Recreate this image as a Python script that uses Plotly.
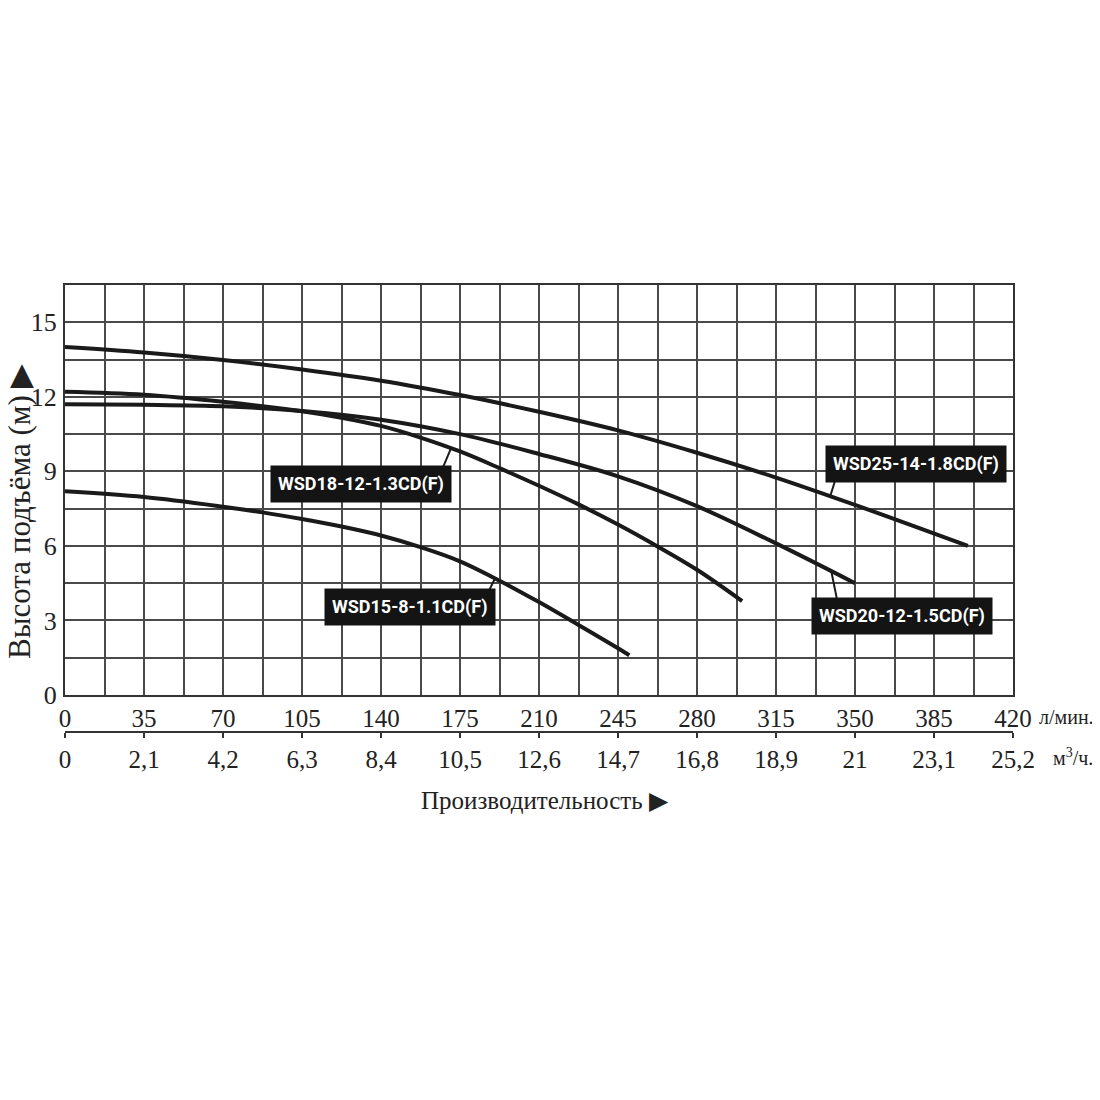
import numpy as np
import plotly.graph_objects as go

# ---- data (flow l/min, head m) ----
q25 = [0, 35, 70, 105, 140, 175, 210, 245, 280, 315, 350, 400]
h25 = [14.0, 13.78, 13.48, 13.1, 12.65, 12.07, 11.4, 10.65, 9.75, 8.75, 7.65, 6.0]

q20 = [0, 35, 70, 105, 140, 175, 210, 245, 280, 315, 350]
h20 = [11.7, 11.68, 11.62, 11.43, 11.08, 10.5, 9.7, 8.8, 7.6, 6.1, 4.5]

q18 = [0, 35, 70, 105, 122.5, 140, 157.5, 175, 192.5, 210, 227.5, 245, 262.5, 280, 300]
h18 = [12.2, 12.08, 11.8, 11.42, 11.16, 10.83, 10.36, 9.8, 9.13, 8.42, 7.67, 6.86, 5.98, 5.04, 3.78]

q15 = [0, 35, 70, 87.5, 105, 122.5, 140, 157.5, 175, 192.5, 210, 227.5, 245, 250]
h15 = [8.2, 7.97, 7.58, 7.35, 7.08, 6.78, 6.42, 5.95, 5.38, 4.6, 3.74, 2.82, 1.88, 1.6]

names = ["WSD25-14-1.8CD(F)", "WSD20-12-1.5CD(F)", "WSD18-12-1.3CD(F)", "WSD15-8-1.1CD(F)"]

# label boxes: (box center q, box center h, pointer start q, pointer start h, pointer end q)
label_pos = [
    (377, 9.3, 341, 8.57, 339),
    (371, 3.18, 342, 3.86, 339.5),
    (131, 8.49, 167.5, 9.17, 171),
    (153, 3.54, 188, 4.23, 190.5),
]

x_ticks = list(range(0, 421, 35))
m3_vals = [0, 2.1, 4.2, 6.3, 8.4, 10.5, 12.6, 14.7, 16.8, 18.9, 21, 23.1, 25.2]
m3_text = ["0", "2,1", "4,2", "6,3", "8,4", "10,5", "12,6", "14,7", "16,8", "18,9", "21", "23,1", "25,2"]
y_ticks = [0, 3, 6, 9, 12, 15]

series = [(q25, h25), (q20, h20), (q18, h18), (q15, h15)]

fig = go.Figure()
for (qq, hh), nm in zip(series, names):
    fig.add_trace(go.Scatter(x=qq, y=hh, mode="lines", name=nm,
                             line=dict(color="#1a1a1a", width=4, shape="spline", smoothing=1.0),
                             showlegend=False, hoverinfo="skip"))

SERIF = "Liberation Serif, Times New Roman, serif"
NARROW = "Roboto, Arial, sans-serif"

for (qq, hh), nm, (bq, bh, pq, ph, eq) in zip(series, names, label_pos):
    eh = float(np.interp(eq, qq, hh))
    fig.add_trace(go.Scatter(x=[pq, eq], y=[ph, eh], mode="lines",
                             line=dict(color="#1a1a1a", width=2),
                             showlegend=False, hoverinfo="skip"))
    fig.add_annotation(x=bq, y=bh, xref="x", yref="y", text="<b>" + nm + "</b>",
                       showarrow=False, bgcolor="#141414", borderpad=7,
                       font=dict(family=NARROW, size=18, color="white"))

# invisible trace for the m3/h axis
fig.add_trace(go.Scatter(x=[0, 25.2], y=[0, 0], xaxis="x2", yaxis="y", mode="lines",
                         line=dict(width=0), showlegend=False, hoverinfo="skip", opacity=0))

OFF = 8  # page body margin
W, H = 1092, 1092
left, right_px, top_px, axis2_px, bottom_px = 65 - OFF, 1013 - OFF, 285 - OFF, 732 - OFF, 695 - OFF
y_dom0 = (axis2_px - bottom_px) / (axis2_px - top_px)
GRID = "#4a4a4a"

fig.update_layout(
    width=W, height=H,
    paper_bgcolor="white", plot_bgcolor="white",
    margin=dict(l=left, r=W - right_px, t=top_px, b=H - axis2_px, pad=0),
    xaxis=dict(range=[0, 420], tickvals=x_ticks, showgrid=True,
               gridcolor=GRID, gridwidth=2, zeroline=False, showline=True,
               linecolor="#333", linewidth=2, mirror=True, ticks="", anchor="y",
               minor=dict(dtick=17.5, tick0=0, showgrid=True, gridcolor=GRID, gridwidth=2),
               tickfont=dict(family=SERIF, size=25, color="#222")),
    xaxis2=dict(range=[0, 25.2], tickvals=m3_vals, ticktext=m3_text, overlaying="x",
                anchor="free", position=0, side="bottom", showgrid=False, zeroline=False,
                showline=True, linecolor="#333", linewidth=2, ticks="outside", ticklen=5,
                tickwidth=2, tickcolor="#333",
                tickfont=dict(family=SERIF, size=25, color="#222")),
    yaxis=dict(range=[0, 16.5], domain=[y_dom0, 1], tickvals=y_ticks,
               showgrid=True, gridcolor=GRID, gridwidth=2, zeroline=False,
               showline=True, linecolor="#333", linewidth=2, mirror=True, ticks="",
               minor=dict(dtick=1.5, tick0=0, showgrid=True, gridcolor=GRID, gridwidth=2),
               ticklabelstandoff=1,
               tickfont=dict(family=SERIF, size=26, color="#222")),
)

def px_x(p):
    return (p - OFF - left) / (right_px - left)

def px_y(p):
    return (axis2_px - (p - OFF)) / (axis2_px - top_px)

fig.add_annotation(xref="paper", yref="paper", x=px_x(1037), y=px_y(717), xanchor="left",
                   yanchor="middle", text="л/мин.", showarrow=False,
                   font=dict(family=SERIF, size=20, color="#222"))
fig.add_annotation(xref="paper", yref="paper", x=px_x(1051), y=px_y(757), xanchor="left",
                   yanchor="middle", text="м<sup>3</sup>/ч.", showarrow=False,
                   font=dict(family=SERIF, size=20, color="#222"))
fig.add_annotation(xref="paper", yref="paper", x=px_x(545), y=px_y(800), xanchor="center",
                   yanchor="middle", text="Производительность ▶", showarrow=False,
                   font=dict(family=SERIF, size=25, color="#222"))
fig.add_annotation(xref="paper", yref="paper", x=px_x(19), y=px_y(512), xanchor="center",
                   yanchor="middle", text="Высота подъёма (м) ▶", textangle=-90, showarrow=False,
                   font=dict(family=SERIF, size=31, color="#222"))

fig.write_html("out.html")
